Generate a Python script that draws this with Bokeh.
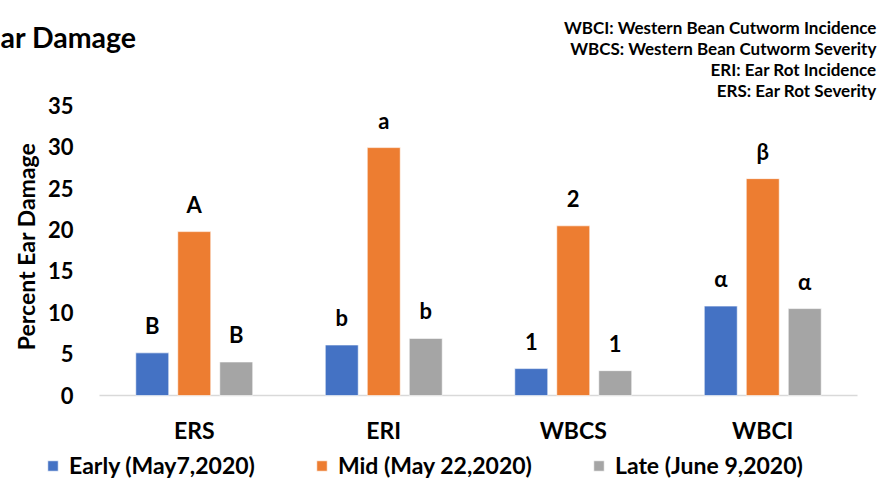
from bokeh.plotting import figure
from bokeh.models import (ColumnDataSource, LabelSet, Label, Legend, LegendItem, Range1d)
from bokeh.transform import dodge
from bokeh.core.properties import value
from bokeh.embed import file_html
from bokeh.resources import INLINE

categories = ["ERS", "ERI", "WBCS", "WBCI"]
early = [5.15, 6.1, 3.25, 10.8]
mid = [19.8, 29.95, 20.5, 26.2]
late = [4.05, 6.9, 3.0, 10.5]
early_letters = ["B", "b", "1", "\u03b1"]
mid_letters = ["A", "a", "2", "\u03b2"]
late_letters = ["B", "b", "1", "\u03b1"]
series_names = ["Early (May7,2020)", "Mid (May 22,2020)", "Late (June 9,2020)"]
y_ticks = [0, 5, 10, 15, 20, 25, 30, 35]
y_axis_title = "Percent Ear Damage"
title_text = "ar Damage"
notes = ["WBCI: Western Bean Cutworm Incidence",
         "WBCS: Western Bean Cutworm Severity",
         "ERI: Ear Rot Incidence",
         "ERS: Ear Rot Severity"]

FONT = "Lato"
colors = ["#4472C4", "#ED7D31", "#A5A5A5"]

# ---- layout geometry (pixels) ----
W, H = 890, 479
ZERO_PX = 395               # pixel row of value 0
TOP_TICK_PX = 105.3         # pixel row of value 35
BAND_PX = 189.5             # width of one category band
BAND_LEFT_PX = 99           # left edge of first category band
px_per_y = (ZERO_PX - TOP_TICK_PX) / y_ticks[-1]
x_start = -0.5 - BAND_LEFT_PX / BAND_PX
x_end = x_start + W / BAND_PX
y_start = -(H - ZERO_PX) / px_per_y
y_end = ZERO_PX / px_per_y


def dx(px):
    return x_start + px / BAND_PX


def dy(py):
    return (ZERO_PX - py) / px_per_y


xi = list(range(len(categories)))
src = ColumnDataSource(dict(x=xi, cat=categories, early=early, mid=mid, late=late,
                            le=early_letters, lm=mid_letters, ll=late_letters))

p = figure(width=W, height=H, x_range=Range1d(x_start, x_end), y_range=Range1d(y_start, y_end),
           x_axis_type=None, y_axis_type=None, output_backend="svg", toolbar_location=None,
           min_border=0)
p.outline_line_color = None
p.xgrid.grid_line_color = None
p.ygrid.grid_line_color = None

# baseline (category axis line)
p.segment(x0=xi[0] - 0.5, y0=0, x1=xi[-1] + 0.5, y1=0, line_color="#D9D9D9", line_width=1.5)

off = 0.2216
bw = 0.174
renderers = []
for col, lab, d, c in [("early", "le", -off, colors[0]), ("mid", "lm", 0, colors[1]),
                       ("late", "ll", off, colors[2])]:
    r = p.vbar(x=dodge("x", d), top=col, width=bw, source=src,
               fill_color=c, line_color="white", line_width=0.6)
    renderers.append(r)
    p.add_layout(LabelSet(x=dodge("x", d), y=col, text=lab, source=src,
                          text_align="center", text_baseline="alphabetic", y_offset=19,
                          text_font=value(FONT), text_font_style="bold",
                          text_font_size="22px", text_color="black"))

# category labels
p.add_layout(LabelSet(x="x", y=dy(438), text="cat", source=src, text_align="center",
                      text_baseline="alphabetic", text_font=value(FONT), text_font_style="bold",
                      text_font_size="23px", text_color="black"))

# y tick labels and y title
tsrc = ColumnDataSource(dict(t=y_ticks, s=[str(t) for t in y_ticks]))
p.add_layout(LabelSet(x=dx(73), y="t", text="s", source=tsrc, text_align="right",
                      text_baseline="alphabetic", y_offset=-8, text_font=value(FONT),
                      text_font_style="bold", text_font_size="22px", text_color="black"))
p.add_layout(Label(x=dx(25), y=dy(246), text=y_axis_title, angle=90, angle_units="deg",
                   text_align="center", text_baseline="alphabetic", text_font=FONT,
                   text_font_style="bold", text_font_size="23px", text_color="black"))

# title and notes
p.add_layout(Label(x=dx(0), y=dy(36.7), text=title_text, text_font=FONT, text_font_style="bold",
                   text_font_size="28.5px", text_color="black",
                   text_baseline="alphabetic", text_align="left"))
for i, t in enumerate(notes):
    p.add_layout(Label(x=dx(876), y=dy(26.5 + 21.3 * i), text=t, text_font=FONT,
                       text_font_style="bold", text_font_size="17px", text_color="black",
                       text_baseline="alphabetic", text_align="right"))

legend = Legend(items=[LegendItem(label=n, renderers=[r]) for n, r in zip(series_names, renderers)],
                orientation="horizontal", location=(46, 0),
                glyph_width=13, glyph_height=13, label_standoff=10, spacing=60,
                padding=4, margin=0, border_line_color=None, background_fill_alpha=0,
                label_text_font=FONT, label_text_font_style="bold",
                label_text_font_size="23px", label_text_color="black")
p.add_layout(legend)

open("out.html", "w").write(file_html(p, INLINE))
